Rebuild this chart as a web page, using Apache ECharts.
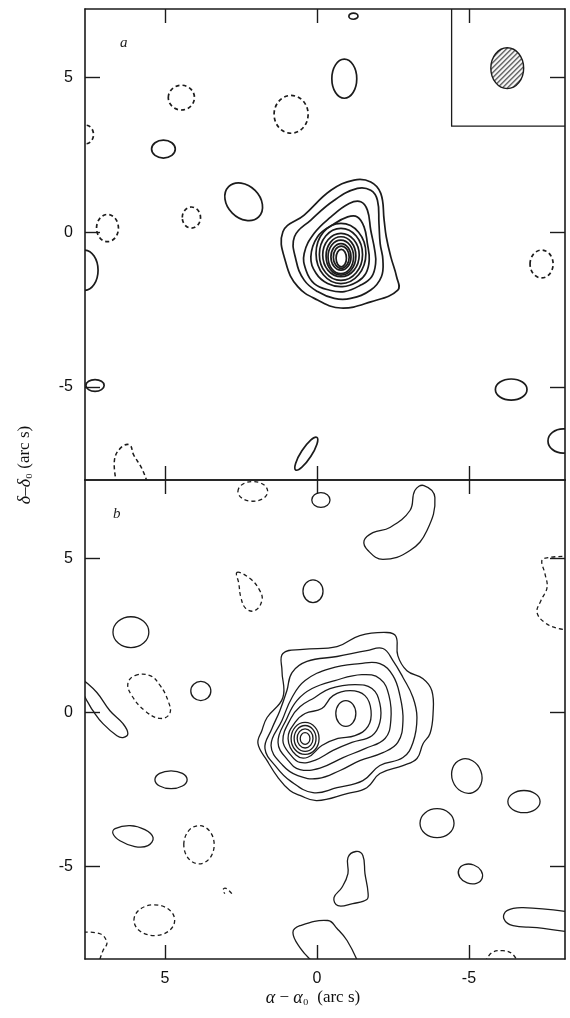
<!DOCTYPE html>
<html><head><meta charset="utf-8">
<script src="https://cdn.jsdelivr.net/npm/echarts@6/dist/echarts.min.js"></script>
<style>html,body{margin:0;padding:0;background:#fff}#c{width:570px;height:1018px}</style>
</head><body><div id="c"></div>
<script>
// ---------- axis ticks / ranges (arc s) ----------
const xTicks = [5, 0, -5];
const yTicks = [5, 0, -5];
const xRange = [-8.16, 7.63];
const yRangeA = [-8, 7.2];
const yRangeB = [-8, 7.55];

// ---------- panel a : main source, irregular outer contours ----------
const aSrc1 = [[1.12,0.01],[0.42,0.55],[-0.46,1.35],[-1.22,1.68],[-1.77,1.62],[-2.10,1.25],[-2.21,0.39],[-2.28,-0.15],[-2.43,-0.80],[-2.62,-1.44],[-2.66,-1.87],[-1.77,-2.25],[-0.79,-2.45],[-0.02,-2.19],[0.63,-1.76],[1.02,-1.00]];
const aSrc2 = [[0.74,-0.15],[0.20,0.39],[-0.57,1.03],[-1.33,1.41],[-1.77,1.35],[-1.99,1.03],[-2.04,0.28],[-2.08,-0.37],[-2.17,-0.90],[-2.12,-1.44],[-1.77,-1.87],[-1.11,-2.14],[-0.57,-2.14],[-0.02,-1.92],[0.42,-1.55],[0.69,-0.90]];
const aSrc3 = [[0.42,-0.69],[0.09,-0.04],[-0.46,0.49],[-1.06,0.92],[-1.44,0.98],[-1.66,0.71],[-1.77,0.06],[-1.90,-0.58],[-1.93,-1.01],[-1.80,-1.44],[-1.44,-1.71],[-0.90,-1.92],[-0.40,-1.87],[0.09,-1.66],[0.36,-1.23]];
const aSrc4 = [[0.20,-0.80],[-0.02,-0.15],[-0.51,0.23],[-1.01,0.49],[-1.33,0.49],[-1.55,0.17],[-1.66,-0.37],[-1.72,-0.90],[-1.61,-1.33],[-1.33,-1.60],[-0.84,-1.76],[-0.35,-1.66],[0.03,-1.33]];
// inner near-elliptical contours: [centre x, centre y, half-width, half-height]
const aRings = [[-0.79,-0.69,0.82,0.97],[-0.79,-0.72,0.71,0.84],[-0.79,-0.74,0.60,0.70],[-0.79,-0.77,0.49,0.62],[-0.785,-0.80,0.42,0.54],[-0.79,-0.80,0.33,0.43],[-0.80,-0.81,0.26,0.36],[-0.80,-0.84,0.17,0.28]];
// isolated blobs: [x, y, half-width, half-height, tilt deg, sign(+1 solid / -1 dashed)]
const aBlobs = [
  [4.46,4.34,0.43,0.40,0,-1],[5.05,2.68,0.39,0.29,0,1],[2.41,0.98,0.70,0.52,-45,1],[4.13,0.47,0.30,0.34,0,-1],
  [6.89,0.13,0.36,0.44,0,-1],[7.6,3.15,0.25,0.30,0,-1],[0.85,3.80,0.56,0.61,0,-1],[-0.90,4.95,0.41,0.63,0,1],
  [-1.20,6.97,0.15,0.10,0,1],[-7.39,-1.03,0.38,0.45,0,-1],[-6.39,-5.08,0.52,0.34,0,1],[-8.1,-6.74,0.50,0.39,0,1],
  [0.35,-7.15,0.64,0.17,57,1],[7.65,-1.23,0.45,0.65,0,1],[7.3,-4.95,0.30,0.19,0,1]
];
const aOpen1 = [[6.59,-8.1],[6.66,-7.35],[6.43,-6.94],[6.16,-6.87],[6.03,-7.19],[5.77,-7.61],[5.57,-8.1]];
const aInset = [[-4.43,7.4],[-4.43,3.42],[-8.4,3.42]];
const aBeam = [[-6.26,5.29,0.54,0.66,0,1]];

// ---------- panel b : main source ----------
const bSrc1 = [[1.12,1.92],[0.46,2.05],[-0.66,2.14],[-1.41,2.50],[-2.30,2.60],[-2.60,2.47],[-2.66,1.85],[-2.96,1.36],[-3.49,1.10],[-3.78,0.71],[-3.82,-0.03],[-3.72,-0.68],[-3.49,-1.01],[-3.29,-1.49],[-2.83,-1.72],[-2.07,-1.98],[-1.64,-2.44],[-0.99,-2.63],[0.0,-2.86],[0.56,-2.69],[0.89,-2.53],[1.28,-2.11],[1.64,-1.56],[1.94,-1.01],[1.81,-0.58],[1.64,-0.16],[1.12,0.49],[1.15,1.36]];
const bSrc2 = [[0.82,1.30],[0.33,1.66],[-0.66,1.82],[-1.64,2.01],[-2.17,2.08],[-2.50,1.69],[-2.83,1.14],[-3.16,0.49],[-3.29,-0.16],[-3.16,-0.97],[-2.83,-1.46],[-2.07,-1.72],[-1.51,-2.21],[-0.66,-2.44],[0.13,-2.60],[0.89,-2.21],[1.32,-1.79],[1.71,-1.17],[1.48,-0.52],[1.22,0.06],[0.99,0.71]];
const bSrc3 = [[1.51,-1.07],[1.15,-0.26],[0.82,0.49],[0.39,1.04],[-0.43,1.43],[-1.41,1.59],[-2.07,1.59],[-2.50,1.20],[-2.73,0.55],[-2.83,-0.26],[-2.66,-0.97],[-2.17,-1.30],[-1.41,-1.56],[-0.76,-1.88],[-0.03,-2.14],[0.63,-2.05],[1.12,-1.72]];
const bSrc4 = [[1.28,-0.97],[0.99,-0.19],[0.66,0.39],[0.16,0.78],[-0.59,1.04],[-1.48,1.23],[-2.07,1.10],[-2.37,0.55],[-2.43,-0.26],[-2.24,-0.84],[-1.58,-1.17],[-0.86,-1.46],[-0.10,-1.80],[0.56,-1.85],[0.95,-1.55]];
const bSrc5 = [[1.12,-0.91],[0.86,-0.19],[0.56,0.19],[0.07,0.49],[-0.43,0.78],[-1.25,0.91],[-1.81,0.78],[-2.07,0.29],[-2.07,-0.32],[-1.81,-0.75],[-1.15,-0.97],[-0.53,-1.23],[0.07,-1.55],[0.56,-1.62],[0.86,-1.38]];
const bSrc6 = [[0.95,-0.84],[0.72,-0.32],[0.39,-0.03],[-0.16,0.13],[-0.53,0.55],[-1.09,0.71],[-1.58,0.55],[-1.78,0.06],[-1.68,-0.45],[-1.25,-0.75],[-0.69,-0.84],[-0.16,-1.07],[0.30,-1.45],[0.69,-1.38]];
const bRings = [[-0.95,-0.03,0.33,0.42],[0.39,-0.84,0.46,0.52],[0.39,-0.84,0.36,0.42],[0.39,-0.84,0.26,0.31],[0.39,-0.84,0.16,0.19]];
const bBanana = [[-3.52,7.37],[-3.88,6.98],[-3.62,5.91],[-3.06,5.26],[-2.17,4.97],[-1.68,5.26],[-1.55,5.58],[-1.84,5.84],[-2.40,6.01],[-3.06,6.56],[-3.22,7.21]];
const bTear = [[2.63,4.55],[2.20,4.35],[1.88,3.96],[1.81,3.64],[2.04,3.31],[2.34,3.38],[2.50,3.73],[2.57,4.19]];
const bOval = [[5.99,1.20],[5.49,1.20],[5.16,0.88],[4.90,0.39],[4.84,-0.03],[5.16,-0.19],[5.66,0.06],[6.09,0.55],[6.22,0.94]];
const bEgg = [[6.64,-3.77],[6.15,-3.67],[5.66,-3.80],[5.39,-4.06],[5.56,-4.32],[5.99,-4.35],[6.48,-4.16],[6.71,-3.93]];
const bPin = [[-1.28,-4.51],[-1.51,-4.64],[-1.58,-5.23],[-1.68,-5.84],[-1.64,-6.07],[-1.18,-6.20],[-0.69,-6.27],[-0.56,-6.01],[-0.82,-5.68],[-1.02,-5.23],[-1.02,-4.71]];
const bBlobs = [
  [2.11,7.18,0.49,0.32,0,-1],[-0.13,6.90,0.30,0.24,0,1],[0.13,3.94,0.33,0.37,0,1],[6.12,2.61,0.59,0.50,0,1],
  [3.82,0.70,0.33,0.31,0,1],[4.80,-2.18,0.53,0.29,0,1],[3.88,-4.29,0.50,0.62,0,-1],[5.35,-6.74,0.67,0.50,0,-1],
  [-3.95,-3.59,0.56,0.47,0,1],[-4.93,-2.06,0.49,0.57,20,1],[-6.81,-2.89,0.53,0.36,0,1],[-5.05,-5.24,0.41,0.31,-20,1]
];
const bOpenL = [[7.9,1.25],[7.73,1.10],[7.24,0.65],[6.81,0.06],[6.38,-0.36],[6.22,-0.68],[6.38,-0.81],[6.58,-0.75],[7.04,-0.36],[7.37,0.06],[7.57,0.39],[7.73,0.62],[7.9,0.5]];
const bOpenR = [[-8.3,5.08],[-7.6,5.03],[-7.4,4.94],[-7.5,4.51],[-7.57,4.06],[-7.37,3.64],[-7.24,3.25],[-7.5,2.92],[-7.93,2.73],[-8.3,2.69]];
const bHook = [[2.80,-5.88],[2.99,-5.71],[3.09,-5.75],[3.03,-5.88]];
const bCorner = [[7.9,-7.14],[7.14,-7.18],[6.91,-7.47],[7.04,-7.73],[7.17,-8.1]];
const bMound = [[0.13,-8.1],[0.56,-7.63],[0.79,-7.14],[0.56,-6.92],[-0.36,-6.75],[-0.66,-7.01],[-0.99,-7.40],[-1.35,-8.1]];
const bEdgeR = [[-8.4,-6.49],[-6.78,-6.33],[-6.25,-6.43],[-6.15,-6.69],[-6.45,-6.92],[-7.24,-6.98],[-8.4,-7.14]];
const bBottomD = [[-5.53,-8.1],[-5.76,-7.79],[-6.12,-7.73],[-6.41,-7.82],[-6.61,-8.1]];

// ---------- assemble ----------
const INK = '#1b1b1b';
const aClosed = [
  {pts:aSrc1,sign:1},{pts:aSrc2,sign:1},{pts:aSrc3,sign:1},{pts:aSrc4,sign:1}
];
const aOpen = [{pts:aOpen1,sign:-1},{pts:aInset,sign:1,sharp:true}];
const bClosed = [
  {pts:bSrc1,sign:1},{pts:bSrc2,sign:1},{pts:bSrc3,sign:1},{pts:bSrc4,sign:1},{pts:bSrc5,sign:1},{pts:bSrc6,sign:1},
  {pts:bBanana,sign:1},{pts:bTear,sign:-1},{pts:bOval,sign:-1},{pts:bEgg,sign:1},{pts:bPin,sign:1}
];
const bOpen = [
  {pts:bOpenL,sign:1},{pts:bOpenR,sign:-1},{pts:bHook,sign:-1},{pts:bCorner,sign:-1},
  {pts:bMound,sign:1},{pts:bEdgeR,sign:1},{pts:bBottomD,sign:-1}
];
const aEll = aRings.map(r => [r[0], r[1], r[2], r[3], 0, 1]).concat(aBlobs);
const bEll = bRings.map(r => [r[0], r[1], r[2], r[3], 0, 1]).concat(bBlobs);

// hatch pattern for beam
const pc = document.createElement('canvas');
pc.width = 5; pc.height = 5;
const pctx = pc.getContext('2d');
pctx.strokeStyle = '#222'; pctx.lineWidth = 1.1;
pctx.beginPath();
pctx.moveTo(0,5); pctx.lineTo(5,0);
pctx.moveTo(-1,1); pctx.lineTo(1,-1);
pctx.moveTo(4,6); pctx.lineTo(6,4);
pctx.stroke();

function polySeries(gi, list, closed, lw) {
  return {
    type: 'custom', xAxisIndex: gi * 2, yAxisIndex: gi * 2, clip: true, silent: true, animation: false,
    data: list.map(it => it.pts[0]),
    renderItem: function (params, api) {
      const it = list[params.dataIndex];
      const pts = it.pts.map(p => api.coord(p));
      return {
        type: closed ? 'polygon' : 'polyline',
        shape: { points: pts, smooth: it.sharp ? 0 : 0.42 },
        style: { fill: 'none', stroke: INK, lineWidth: it.sharp ? 1.3 : lw, lineDash: it.sign < 0 ? [4, 3] : null }
      };
    }
  };
}
function ellSeries(gi, list, lw, hatch) {
  return {
    type: 'custom', xAxisIndex: gi * 2, yAxisIndex: gi * 2, clip: true, silent: true, animation: false,
    data: list.map(e => [e[0], e[1]]),
    renderItem: function (params, api) {
      const e = list[params.dataIndex];
      const c = api.coord([e[0], e[1]]);
      const s = api.size([e[2], e[3]]);
      return {
        type: 'ellipse', x: c[0], y: c[1], rotation: e[4] * Math.PI / 180,
        shape: { cx: 0, cy: 0, rx: s[0], ry: s[1] },
        style: { fill: hatch ? { image: pc, repeat: 'repeat' } : 'none', stroke: INK, lineWidth: lw, lineDash: e[5] < 0 ? [4, 3] : null }
      };
    }
  };
}
function xAx(gi, pos, labels) {
  return {
    type: 'value', gridIndex: gi, position: pos, min: xRange[0], max: xRange[1], inverse: true,
    axisLine: { show: true, onZero: false, lineStyle: { color: INK, width: 1.6 } },
    axisTick: { show: true, inside: true, length: 14, customValues: xTicks, lineStyle: { color: INK, width: 1.4 } },
    axisLabel: { show: labels, customValues: xTicks, margin: 12, color: '#111', fontSize: 16, fontFamily: 'Liberation Sans, Arial, sans-serif' },
    splitLine: { show: false }
  };
}
function yAx(gi, pos, labels, rng) {
  return {
    type: 'value', gridIndex: gi, position: pos, min: rng[0], max: rng[1],
    axisLine: { show: true, onZero: false, lineStyle: { color: INK, width: 1.6 } },
    axisTick: { show: true, inside: true, length: 15, customValues: yTicks, lineStyle: { color: INK, width: 1.4 } },
    axisLabel: { show: labels, customValues: yTicks, margin: 12, color: '#111', fontSize: 16, fontFamily: 'Liberation Sans, Arial, sans-serif' },
    splitLine: { show: false }
  };
}

const chart = echarts.init(document.getElementById('c'), null, { renderer: 'canvas' });
chart.setOption({
  backgroundColor: '#fff',
  animation: false,
  grid: [
    { left: 85, top: 9, width: 480, height: 471 },
    { left: 85, top: 480, width: 480, height: 479 }
  ],
  xAxis: [xAx(0, 'bottom', false), xAx(0, 'top', false), xAx(1, 'bottom', true), xAx(1, 'top', false)],
  yAxis: [yAx(0, 'left', true, yRangeA), yAx(0, 'right', false, yRangeA), yAx(1, 'left', true, yRangeB), yAx(1, 'right', false, yRangeB)],
  graphic: [
    { type: 'text', left: 120, top: 36, style: { text: 'a', font: 'italic 15px "Liberation Serif", serif', fill: '#222' } },
    { type: 'text', left: 113, top: 507, style: { text: 'b', font: 'italic 15px "Liberation Serif", serif', fill: '#222' } },
    { type: 'text', x: 313, y: 998, style: {
        text: '{i|α} − {i|α}₀  (arc s)', font: '17px "Liberation Serif", serif', fill: '#111', align: 'center', verticalAlign: 'middle',
        rich: { i: { fontStyle: 'italic', fontSize: 18, fontFamily: 'Liberation Serif', fill: '#111' } } } },
    { type: 'text', x: 25, y: 465, rotation: Math.PI / 2, style: {
        text: '{i|δ}–{i|δ}₀ (arc s)', font: '17px "Liberation Serif", serif', fill: '#111', align: 'center', verticalAlign: 'middle',
        rich: { i: { fontStyle: 'italic', fontSize: 18, fontFamily: 'Liberation Serif', fill: '#111' } } } }
  ],
  series: [
    polySeries(0, aClosed, true, 1.7),
    polySeries(0, aOpen, false, 1.5),
    ellSeries(0, aEll, 1.7, false),
    ellSeries(0, aBeam, 1.4, true),
    polySeries(1, bClosed, true, 1.3),
    polySeries(1, bOpen, false, 1.3),
    ellSeries(1, bEll, 1.3, false)
  ]
});
</script></body></html>
